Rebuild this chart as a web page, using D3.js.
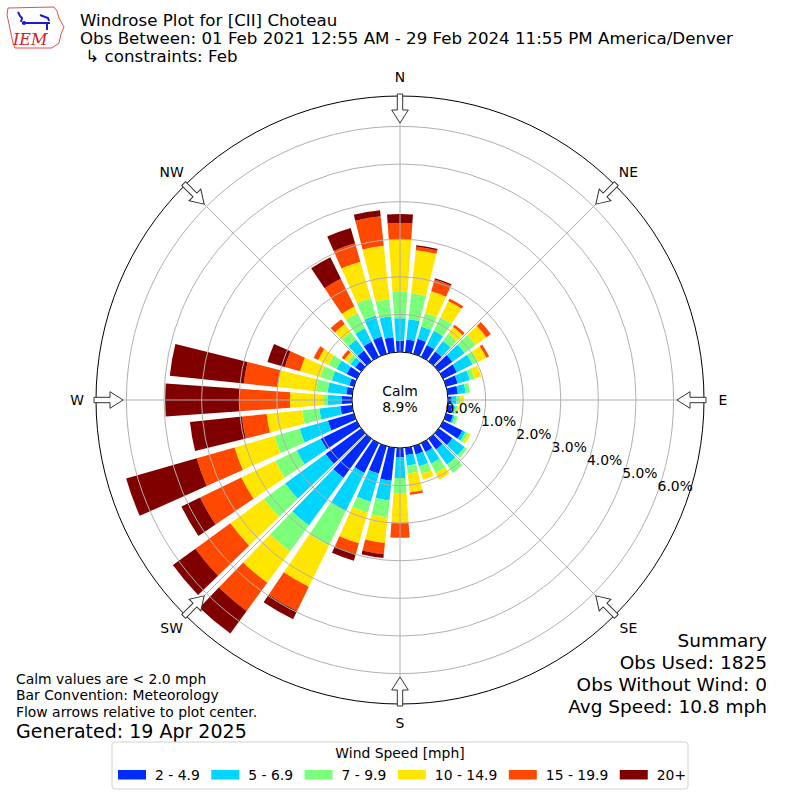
<!DOCTYPE html>
<html>
<head>
<meta charset="utf-8">
<script src="https://cdn.jsdelivr.net/npm/d3@7"></script>
<style>
body { margin: 0; background: #fff; }
text { font-family: "DejaVu Sans", sans-serif; fill: #000; }
</style>
</head>
<body>
<svg width="800" height="800"></svg>
<script>
let width = 800, height = 800;

let svg = d3.select("svg")
    .attr("viewBox", "0 0 " + width + " " + height);

// direction bins (deg, meteorological, 10 deg wide)
let directions = d3.range(0, 360, 10);

// percent of obs per direction for each speed bin
let spd2to5 = [.30, .34, .42, .35, .32, .45, .41, .32, .27, .10, .12, .19, .57, .45, .35, .26, .23, .20,
    .25, .88, .76, .88, 1.28, 1.17, 1.07, .72, .32, .27, .16, .13, .30, .20, .35, .45, .48, .40];
let spd5to7 = [.60, .54, .34, .42, .34, .40, .46, .34, .21, .13, .08, .05, .09, .40, .50, .35, .33, .28,
    .55, .53, .78, 1.13, 1.57, 1.33, .71, .78, .56, .37, .50, .48, .30, .15, .35, .40, .58, .56];
let spd7to10 = [.70, .69, .37, .40, .24, .36, .16, .12, .11, .10, .05, .08, .08, .08, .27, .27, .20, .21,
    .40, .45, .30, 1.02, .85, .70, .64, .70, .46, .13, .31, .32, .25, .10, .25, .45, .48, .46];
let spd10to15 = [1.39, 1.16, .60, .48, .22, .35, .25, .19, 0, .09, .05, 0, .07, 0, 0, .20, .17, .51,
    .79, .69, .85, 1.22, 1.03, 1.10, 1.00, 1.10, .95, .88, 1.03, .56, .30, .10, .27, .19, 1.01, 1.43];
let spd15to20 = [.44, .09, .33, .08, .08, .15, .08, 0, 0, 0, 0, 0, 0, 0, 0, 0, 0, .06,
    .40, .30, .29, .72, .93, 1.15, 1.22, 1.05, .66, 1.33, .90, .42, .13, .09, .16, .82, .51, .79];
let spd20up = [.24, .04, .03, 0, 0, 0, 0, 0, 0, 0, 0, 0, 0, 0, 0, 0, 0, 0,
    0, .10, .19, .24, .74, .74, .55, 1.95, 1.39, 1.99, 1.98, .48, 0, 0, 0, .64, .42, .16];

let speedLabels = ["2 - 4.9", "5 - 6.9", "7 - 9.9", "10 - 14.9", "15 - 19.9", "20+"];
let speedColors = ["#002bff", "#00d4ff", "#7bff7b", "#ffe600", "#ff4900", "#800000"];
let ringTicks = [0, 1, 2, 3, 4, 5, 6];
let compass = ["N", "NE", "E", "SE", "S", "SW", "W", "NW"];
let calmPct = 8.9;

let titleLines = ["Windrose Plot for [CII] Choteau",
    "Obs Between: 01 Feb 2021 12:55 AM - 29 Feb 2024 11:55 PM America/Denver",
    " \u21b3 constraints: Feb"];
let noteLines = ["Calm values are < 2.0 mph", "Bar Convention: Meteorology",
    "Flow arrows relative to plot center."];
let generated = "Generated: 19 Apr 2025";
let summaryLines = ["Summary", "Obs Used: 1825", "Obs Without Wind: 0", "Avg Speed: 10.8 mph"];

// build table for the stack
let keys = ["s0", "s1", "s2", "s3", "s4", "s5"];
let series = [spd2to5, spd5to7, spd7to10, spd10to15, spd15to20, spd20up];
let table = directions.map((d, i) => {
    let row = { dir: d };
    keys.forEach((k, j) => row[k] = series[j][i]);
    return row;
});
let stacked = d3.stack().keys(keys)(table);

let cx = 400, cy = 400, outerR = 304, calmR = 48;
let r = d3.scaleLinear().domain([0, 6]).range([calmR, 273.6]);
let rad = Math.PI / 180;
let halfWidth = 4; // bar half width in degrees

let g = svg.append("g").attr("transform", "translate(" + cx + "," + cy + ")");

// bars
let arc = d3.arc()
    .innerRadius(d => r(d[0]))
    .outerRadius(d => r(d[1]))
    .startAngle(d => (d.data.dir - halfWidth) * rad)
    .endAngle(d => (d.data.dir + halfWidth) * rad);

g.append("g")
    .attr("id", "bars")
    .selectAll("g")
    .data(stacked)
    .enter()
    .append("g")
    .attr("fill", (d, i) => speedColors[i])
    .selectAll("path")
    .data(d => d.filter(v => v[1] - v[0] > 0))
    .enter()
    .append("path")
    .attr("d", arc);

// grid
g.append("g")
    .attr("id", "rings")
    .selectAll("circle")
    .data(ringTicks)
    .enter()
    .append("circle")
    .attr("r", d => r(d))
    .attr("fill", "none")
    .attr("stroke", "#b0b0b0")
    .attr("stroke-width", 1);

g.append("g")
    .attr("id", "spokes")
    .selectAll("line")
    .data(d3.range(0, 360, 45))
    .enter()
    .append("line")
    .attr("x1", 0).attr("y1", 0)
    .attr("x2", d => outerR * Math.sin(d * rad))
    .attr("y2", d => -outerR * Math.cos(d * rad))
    .attr("stroke", "#b0b0b0")
    .attr("stroke-width", 1);

// calm circle
g.append("circle")
    .attr("r", calmR)
    .attr("fill", "#fff")
    .attr("stroke", "#000")
    .attr("stroke-width", 1);
g.append("text")
    .attr("y", -4)
    .attr("text-anchor", "middle")
    .style("font-size", "13.9px")
    .text("Calm");
g.append("text")
    .attr("y", 12)
    .attr("text-anchor", "middle")
    .style("font-size", "13.9px")
    .text(calmPct.toFixed(1) + "%");

// outer frame
g.append("circle")
    .attr("r", outerR)
    .attr("fill", "none")
    .attr("stroke", "#000")
    .attr("stroke-width", 1);

// ring labels
let labelAngle = 110 * rad;
g.append("g")
    .selectAll("text")
    .data(ringTicks)
    .enter()
    .append("text")
    .attr("x", d => r(d) * Math.sin(labelAngle) + 0.5)
    .attr("y", d => -r(d) * Math.cos(labelAngle) - 3)
    .style("font-size", "13.9px")
    .text(d => d.toFixed(1) + "%");

// flow arrows pointing inward
let arrowPts = [[277, 0], [290, 8.3], [290, 2.7], [306, 2.7], [306, -2.7], [290, -2.7], [290, -8.3]];
g.append("g")
    .attr("id", "arrows")
    .selectAll("path")
    .data(d3.range(0, 360, 45))
    .enter()
    .append("path")
    .attr("d", d3.line()(arrowPts) + "Z")
    .attr("transform", d => "rotate(" + (d - 90) + ")")
    .attr("fill", "#fff")
    .attr("stroke", "#333")
    .attr("stroke-width", 1)
    .attr("stroke-linejoin", "miter");

// compass labels
g.append("g")
    .selectAll("text")
    .data(compass)
    .enter()
    .append("text")
    .attr("x", (d, i) => 323 * Math.sin(i * 45 * rad))
    .attr("y", (d, i) => -323 * Math.cos(i * 45 * rad))
    .attr("text-anchor", "middle")
    .attr("dominant-baseline", "central")
    .style("font-size", "13.9px")
    .text(d => d);

// title
svg.append("g")
    .selectAll("text")
    .data(titleLines)
    .enter()
    .append("text")
    .attr("x", 80)
    .attr("y", (d, i) => 26 + i * 17.8)
    .style("font-size", "16.67px")
    .style("white-space", "pre")
    .text(d => d);

// IEM logo
let logo = svg.append("g").attr("id", "logo");
logo.append("path")
    .attr("d", "M8,8 L54,7 L57,11 L59,18 L64,27 L61,34 L59,43 L52,48 L15,48 L13,43 L11,34 L9,24 L7,15 Z")
    .attr("fill", "none")
    .attr("stroke", "#e05050")
    .attr("stroke-width", 1);
logo.append("path")
    .attr("d", "M18,12 L20,16 L22,18 L21,22 M22,23 L50,23 M40,15 L48,18 L49,21 M47,24 L47,30")
    .attr("fill", "none")
    .attr("stroke", "#1a1ad0")
    .attr("stroke-width", 2);
logo.append("circle").attr("cx", 24).attr("cy", 23).attr("r", 2).attr("fill", "#1a1ad0");
logo.append("text")
    .attr("x", 13)
    .attr("y", 45)
    .style("font-family", "'DejaVu Serif', serif")
    .style("font-style", "italic")
    .style("font-size", "16px")
    .style("fill", "#d02020")
    .text("IEM");

// notes bottom left
svg.append("g")
    .selectAll("text")
    .data(noteLines)
    .enter()
    .append("text")
    .attr("x", 16)
    .attr("y", (d, i) => 684 + i * 16.3)
    .style("font-size", "13.9px")
    .text(d => d);
svg.append("text")
    .attr("x", 16)
    .attr("y", 738)
    .style("font-size", "19px")
    .text(generated);

// summary bottom right
svg.append("g")
    .selectAll("text")
    .data(summaryLines)
    .enter()
    .append("text")
    .attr("x", 767)
    .attr("y", (d, i) => 647 + i * 22)
    .attr("text-anchor", "end")
    .style("font-size", "18.5px")
    .text(d => d);

// legend
let legend = svg.append("g").attr("id", "legend");
legend.append("rect")
    .attr("x", 112).attr("y", 742)
    .attr("width", 576).attr("height", 47)
    .attr("rx", 3)
    .attr("fill", "#fff")
    .attr("stroke", "#d0d0d0");
legend.append("text")
    .attr("x", 400).attr("y", 758)
    .attr("text-anchor", "middle")
    .style("font-size", "13.9px")
    .text("Wind Speed [mph]");
let cursor = 118;
speedLabels.forEach((lab, i) => {
    legend.append("rect")
        .attr("x", cursor).attr("y", 770)
        .attr("width", 28).attr("height", 9.5)
        .attr("fill", speedColors[i]);
    let t = legend.append("text")
        .attr("x", cursor + 37).attr("y", 779.5)
        .style("font-size", "13.9px")
        .text(lab);
    cursor += 37 + t.node().getComputedTextLength() + 11.5;
});
</script>
</body>
</html>
